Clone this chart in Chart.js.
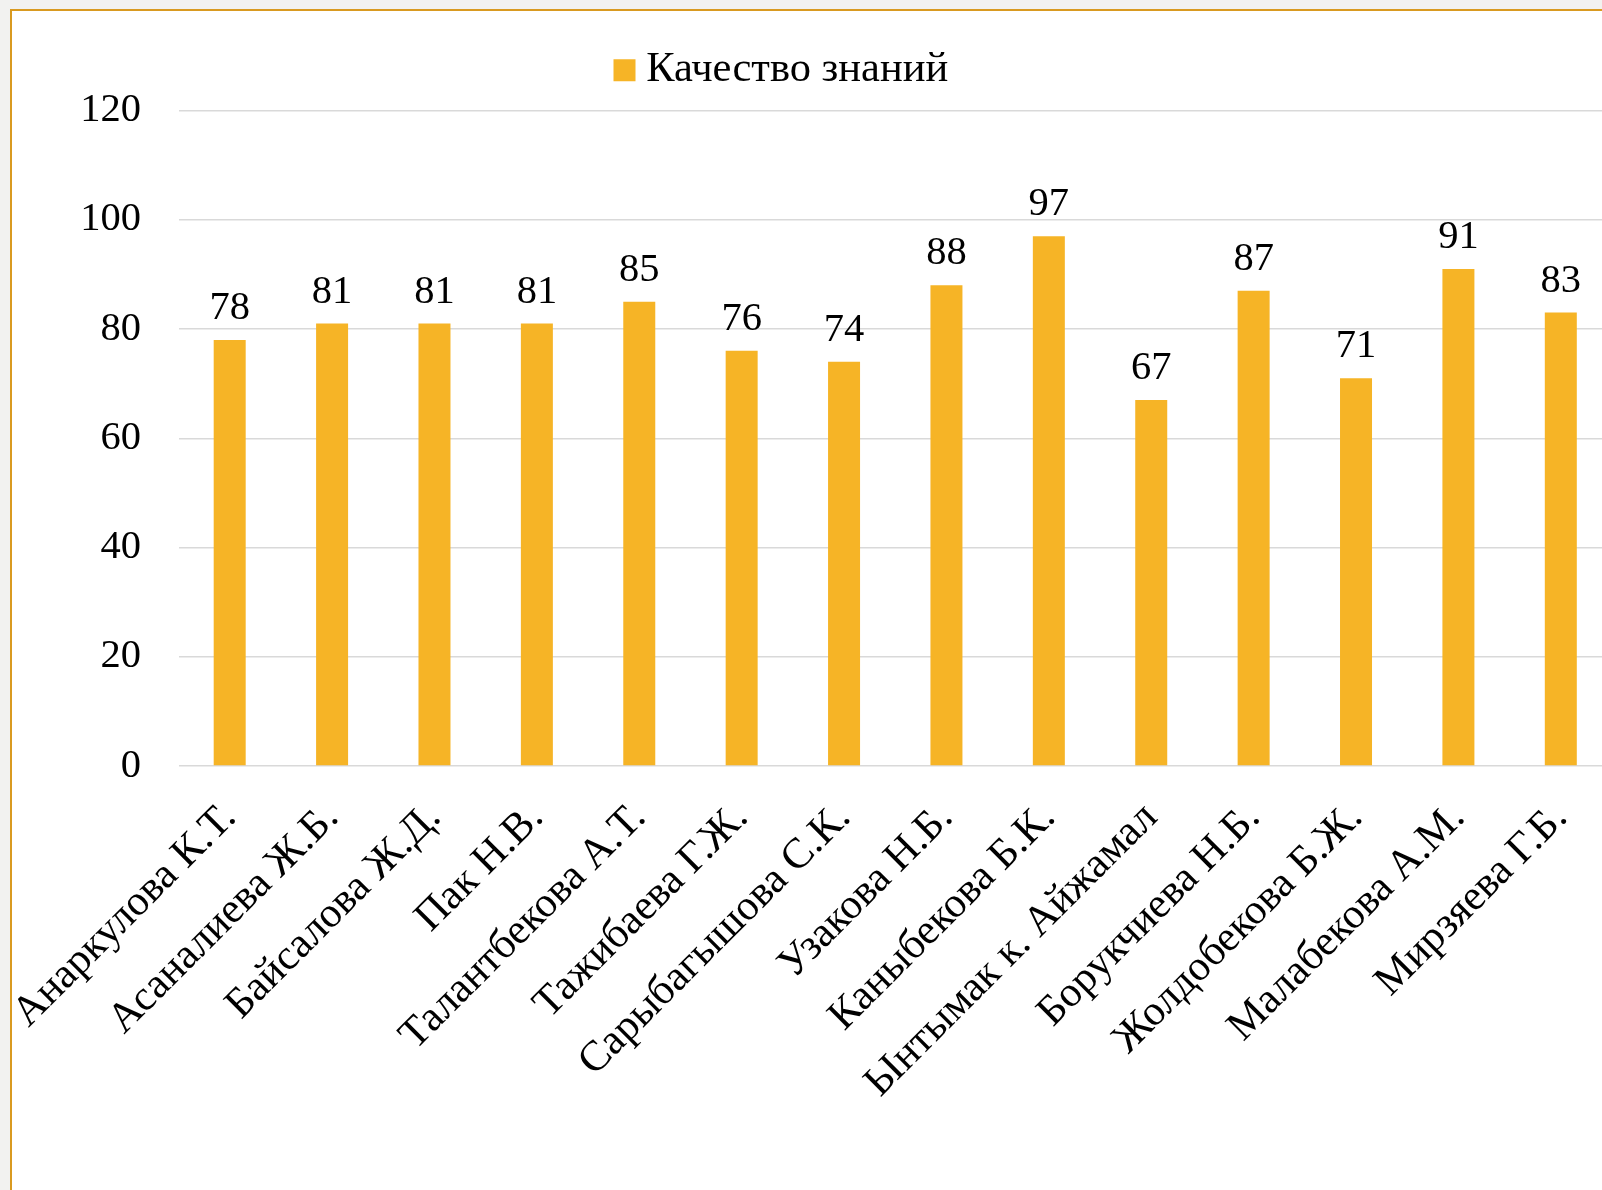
<!DOCTYPE html>
<html>
<head>
<meta charset="utf-8">
<script src="https://cdn.jsdelivr.net/npm/chart.js@4/dist/chart.umd.min.js"></script>
<style>
  html, body { margin: 0; padding: 0; background: #f2f2f0; overflow: hidden; width: 1602px; height: 1190px; }
  #frame { position: absolute; left: 10px; top: 9px; width: 1700px; height: 1300px;
           background: #ffffff; border-left: 2px solid #d99a20; border-top: 2px solid #d99a20; }
  #c { position: absolute; left: 0; top: 0; }
</style>
</head>
<body>
<div id="frame"><canvas id="c" width="1600" height="1175"></canvas></div>
<script>
const categories = [
  "Анаркулова К.Т.", "Асаналиева Ж.Б.", "Байсалова Ж.Д.", "Пак Н.В.",
  "Талантбекова А.Т.", "Тажибаева Г.Ж.", "Сарыбагышова С.К.", "Узакова Н.Б.",
  "Каныбекова Б.К.", "Ынтымак к. Айжамал", "Борукчиева Н.Б.", "Жолдобекова Б.Ж.",
  "Малабекова А.М.", "Мирзяева Г.Б."
];
const seriesName = "Качество знаний";
const seriesValues = [78, 81, 81, 81, 85, 76, 74, 88, 97, 67, 87, 71, 91, 83];
const yTicks = [0, 20, 40, 60, 80, 100, 120];

const FONT = "'Liberation Serif', 'Times New Roman', serif";
const BAR_COLOR = "#f6b426";

const valueLabels = {
  id: "valueLabels",
  afterDatasetsDraw(chart) {
    const ctx = chart.ctx;
    const meta = chart.getDatasetMeta(0);
    ctx.save();
    ctx.font = "40.5px " + FONT;
    ctx.fillStyle = "#000";
    ctx.textAlign = "center";
    ctx.textBaseline = "alphabetic";
    meta.data.forEach((el, i) => {
      ctx.fillText(String(chart.data.datasets[0].data[i]), el.x, el.y - 21);
    });
    ctx.restore();
  }
};

const legendPlace = {
  id: "legendPlace",
  afterLayout(chart) {
    const lg = chart.legend;
    const pad = lg.options.labels.padding;
    lg.left = 612 - pad;
    lg.top = 38 - pad;
  }
};

new Chart(document.getElementById("c"), {
  type: "bar",
  data: {
    labels: categories,
    datasets: [{
      label: seriesName,
      data: seriesValues,
      backgroundColor: BAR_COLOR,
      borderWidth: 0,
      categoryPercentage: 1.0,
      barPercentage: 0.3125
    }]
  },
  options: {
    responsive: false,
    animation: false,
    devicePixelRatio: 1,
    layout: { padding: 0 },
    plugins: {
      legend: {
        display: true,
        position: "top",
        align: "start",
        labels: {
          font: { family: FONT, size: 42.5 },
          color: "#000",
          usePointStyle: true,
          pointStyle: "rect",
          boxWidth: 1,
          boxHeight: 22,
          padding: 47
        }
      },
      tooltip: { enabled: false }
    },
    scales: {
      x: {
        grid: { display: false },
        border: { display: false },
        ticks: {
          font: { family: FONT, size: 42.5 },
          color: "#000",
          minRotation: 45,
          maxRotation: 45,
          autoSkip: false,
          padding: 19
        },
        afterFit(s) { s.height = 420; s.paddingLeft = 0; s.paddingRight = 0; }
      },
      y: {
        min: 0,
        max: 120,
        afterBuildTicks(s) { s.ticks = yTicks.map(v => ({ value: v })); },
        grid: { color: "#d9d9d9", lineWidth: 1.5, drawTicks: false },
        border: { display: false },
        ticks: {
          font: { family: FONT, size: 40.5 },
          color: "#000",
          padding: 37.5
        },
        afterFit(s) { s.width = 166.5; }
      }
    }
  },
  plugins: [valueLabels, legendPlace]
});
</script>
</body>
</html>
